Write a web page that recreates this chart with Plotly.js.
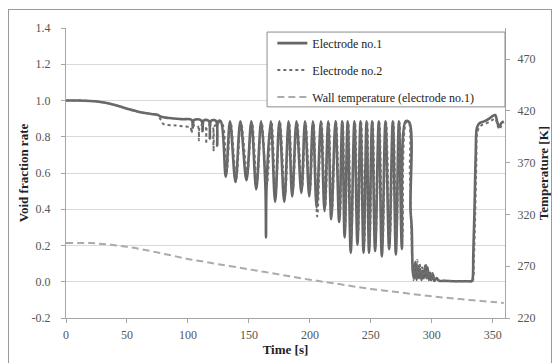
<!DOCTYPE html>
<html>
<head>
<meta charset="utf-8">
<script src="https://cdn.plot.ly/plotly-3.0.1.min.js"></script>
<style>
  html, body { margin: 0; padding: 0; background: #fff; }
  #wrap { position: relative; width: 553px; height: 363px; overflow: hidden; }
  #chart { position: absolute; left: 0; top: 0; width: 553px; height: 363px; }
  #frame { position: absolute; left: 8px; top: 9px; width: 544px; height: 360px; border: 1px solid #9a9a9a; box-sizing: border-box; pointer-events: none; }
</style>
</head>
<body>
<div id="wrap"><div id="chart"></div><div id="frame"></div></div>
<script>
// ---- Electrode no.1 (void fraction) ----
const timeE1 = [0,10,20,30,40,50,60,70,75,78,85,95,103,104,105,111,112,113,117,118,119,123,124,125,
  127,131,134.5,139,143,148,152,156,160,163.5,164,164.5,168,171.5,175,179,182.5,185.5,189,193,196,199.5,
  202.5,205.5,209,212,215,217.5,221,224,226.5,228.5,231,233.5,236.5,239,241.5,244,246.5,248.5,251,253.5,
  256.5,259,262,265,268,270.5,273,275.5,278.5,281.5,
  282.5,283.5,284.5,285.5,286.5,287.5,288.5,289.5,290.5,291.5,292.5,293.5,294.5,295.5,
  296.5,297.5,298.5,299.5,301,302,304,306,310,320,330,332.5,333.3,334,335,336,337,339,343,347,350,352,353.5,355,357,359];
const voidE1 = [1.0,1.0,0.997,0.99,0.975,0.955,0.937,0.926,0.921,0.91,0.903,0.897,0.893,0.85,0.892,0.89,0.83,0.89,0.888,0.79,0.888,0.887,0.75,0.887,
  0.885,0.58,0.885,0.55,0.885,0.56,0.885,0.51,0.885,0.53,0.245,0.53,0.885,0.44,0.885,0.44,0.885,0.47,0.885,0.49,0.885,0.47,
  0.885,0.41,0.885,0.39,0.885,0.345,0.885,0.33,0.885,0.245,0.885,0.16,0.885,0.205,0.885,0.16,0.885,0.16,0.885,0.17,
  0.885,0.14,0.885,0.18,0.885,0.15,0.885,0.18,0.885,0.88,
  0.4,0.3,0.05,0.02,0.11,0.01,0.09,0.02,0.07,0.01,0.06,0.02,0.09,0.02,
  0.08,0.01,0.05,0.01,0.04,0.005,0.02,0.005,0.005,0.003,0.003,0.003,0.01,0.15,0.4,0.7,0.85,0.875,0.885,0.9,0.915,0.92,0.885,0.855,0.875,0.885];

// ---- Electrode no.2 (void fraction) ----
const timeE2 = [0,10,20,30,40,50,60,70,75,78,80,90,100,102,103,104,108,109,110,114,115,116,120,121,122,
  127.5,131.6,135,139.6,143.5,148.6,152.5,156.6,160.5,164.6,168.5,172,175.5,179.6,183,186,189.5,193.6,
  196.5,200,203,206,209.5,212.6,215.5,218,221.5,224.6,227,229,231.5,234,237,239.6,242,244.6,247,249,
  251.5,254,257,259.6,262.5,265.6,268.5,271,273.5,276,279,281,
  282,283,284,285,286,287,288,289,290,291,292,293,295,296,297,299,300.5,302,305,310,320,330,333,333.8,
  334.5,335.5,336.5,337.5,340,345,349,352,354,355.5,357,359];
const voidE2 = [1.0,1.0,0.997,0.99,0.975,0.955,0.937,0.925,0.918,0.89,0.87,0.862,0.855,0.855,0.82,0.86,0.86,0.78,0.86,0.86,0.76,0.86,0.86,0.72,0.86,
  0.88,0.6,0.88,0.57,0.88,0.6,0.88,0.55,0.88,0.53,0.88,0.5,0.88,0.47,0.88,0.5,0.88,0.52,
  0.88,0.5,0.88,0.36,0.88,0.42,0.88,0.38,0.88,0.36,0.88,0.3,0.88,0.25,0.88,0.28,0.88,0.22,0.88,0.2,
  0.88,0.25,0.88,0.2,0.88,0.25,0.88,0.22,0.88,0.25,0.88,0.88,
  0.6,0.35,0.1,0.01,0.08,0.02,0.12,0.03,0.1,0.02,0.08,0.03,0.1,0.02,0.06,0.01,0.05,0.01,0.01,0.005,0.003,0.003,0.003,0.01,
  0.12,0.35,0.65,0.83,0.86,0.875,0.89,0.9,0.86,0.84,0.86,0.875];

// ---- Wall temperature (electrode no.1) [K] ----
const timeWall = [0,20,30,40,50,60,70,80,90,100,110,125,150,175,200,225,250,275,300,325,350,359];
const tempWall = [292.5,292.3,291.5,290.3,288.7,286.8,284.5,282,279.5,277,275,272,267,262,257,252.5,248,244.5,241,238,235.5,234.5];

// ---- tick labels ----
const xTicks = [0,50,100,150,200,250,300,350];
const yTicks = [-0.2,0.0,0.2,0.4,0.6,0.8,1.0,1.2,1.4];
const yTickText = ['-0.2','0.0','0.2','0.4','0.6','0.8','1.0','1.2','1.4'];
const y2Ticks = [220,270,320,370,420,470];

const names = ['Electrode no.1','Electrode no.2','Wall temperature (electrode no.1)'];

const SERIF = '"Liberation Serif", "Times New Roman", serif';
function tickFont() { return {family: SERIF, size: 12, color: '#555'}; }
function titleFont() { return {family: SERIF, size: 13, color: '#222', weight: 'bold'}; }

const traces = [
  {x: timeE1, y: voidE1, name: names[0], legendgroup: 'a', type: 'scatter', mode: 'lines',
   line: {color: '#666666', width: 2.6, shape: 'spline', smoothing: 1}},
  {x: timeE2, y: voidE2, name: names[1], legendgroup: 'b', type: 'scatter', mode: 'lines',
   line: {color: '#6e6e6e', width: 2, dash: 'dot', shape: 'spline', smoothing: 1}},
  {x: timeWall, y: tempWall, name: names[2], legendgroup: 'c', type: 'scatter', mode: 'lines', yaxis: 'y2',
   line: {color: '#ababab', width: 2, dash: '7px,4px', shape: 'spline'}}
];

const layout = {
  width: 553, height: 363,
  margin: {l: 66, r: 48, t: 28, b: 45},
  font: {family: SERIF, size: 12, color: '#333'},
  paper_bgcolor: 'rgba(0,0,0,0)', plot_bgcolor: '#fff',
  showlegend: true,
  legend: {x: 0.47, y: 0.998, xanchor: 'left', yanchor: 'top', bgcolor: 'rgba(0,0,0,0)', borderwidth: 0,
    font: {family: SERIF, size: 12, color: '#222'}, tracegroupgap: 8},
  xaxis: {range: [0, 360], tickvals: xTicks, showgrid: false, zeroline: false, showline: true,
    linecolor: '#a6a6a6', ticks: 'outside', ticklen: 4, tickcolor: '#a6a6a6', tickfont: tickFont(),
    ticklabelstandoff: 2,
    title: {text: 'Time [s]', font: titleFont(), standoff: 3}},
  yaxis: {range: [-0.2, 1.4], tickvals: yTicks, ticktext: yTickText, showgrid: true, gridcolor: '#d9d9d9',
    zeroline: false, showline: true, linecolor: '#a6a6a6', ticks: 'outside', ticklen: 4, tickcolor: '#a6a6a6',
    tickfont: tickFont(), ticklabelstandoff: 8, title: {text: 'Void fraction rate', font: titleFont(), standoff: 0}},
  yaxis2: {range: [220, 500], overlaying: 'y', side: 'right', tickvals: y2Ticks, showgrid: false, zeroline: false,
    showline: true, linecolor: '#a6a6a6', ticks: 'outside', ticklen: 4, tickcolor: '#a6a6a6', tickfont: tickFont(),
    ticklabelstandoff: 5, title: {text: 'Temperature [K]', font: titleFont(), standoff: 4}},
  shapes: [{type: 'rect', xref: 'paper', yref: 'paper', x0: 0.458, x1: 1.0, y0: 0.728, y1: 0.986,
    line: {color: '#8c8c8c', width: 1}, fillcolor: '#fff', layer: 'above'}]
};

Plotly.newPlot('chart', traces, layout, {displayModeBar: false, staticPlot: true});
</script>
</body>
</html>
